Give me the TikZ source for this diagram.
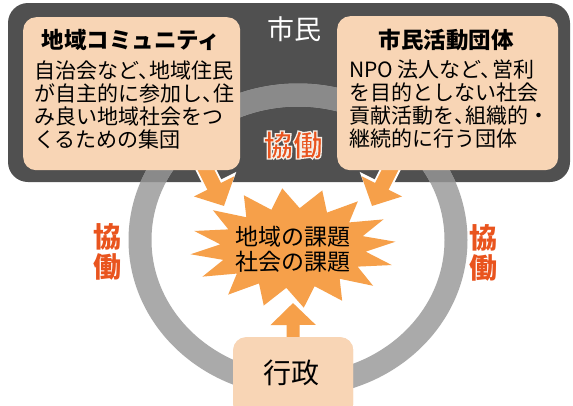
\documentclass[tikz,border=0pt]{standalone}
\usepackage{fontspec}
\setmainfont{Noto Sans CJK JP}
\usetikzlibrary{arrows.meta}
\definecolor{darkbg}{HTML}{505050}
\definecolor{peach}{HTML}{F8D5B5}
\definecolor{orng}{HTML}{F6A04A}
\definecolor{kyored}{HTML}{E9541E}
\definecolor{ringg}{HTML}{AAAAAA}
\definecolor{ringd}{HTML}{8A8A8A}
\newcommand\tou{、\kern-0.45em\relax}
\newcommand\glowon{\special{pdf:literal direct 2 Tr 1.3 w 0.96 0.93 0.9 RG}}
\newcommand\glowoff{\special{pdf:literal direct 0 Tr 0.4 w}}
\begin{document}
\begin{tikzpicture}[x=1pt,y=-1pt,
  box/.style={fill=peach, rounded corners=13pt, inner sep=0pt, draw=none},
  body/.style={align=left, inner sep=0pt, font=\fontsize{21}{23}\selectfont},
  ttl/.style={inner sep=0pt, font=\fontsize{22.5}{24}\selectfont\bfseries},
  kyo/.style={inner sep=0pt, text=kyored, align=center, font=\fontsize{28}{30}\selectfont\bfseries},
  fat/.style={orng, line width=15pt, -{Triangle[length=22pt,width=44pt]}},
  fatw/.style={white, line width=19pt, -{Triangle[length=25pt,width=51pt]}},
  ring/.style={line width=23pt}
]
\clip (0,0) rectangle (573,405);
\fill[white] (0,0) rectangle (573,405);
% citizens area
\fill[darkbg, rounded corners=20pt] (8,3) rectangle (570,182);
% ring
\draw[ringg, ring] (298,240) ellipse [x radius=158, y radius=145];
\begin{scope}
  \clip[rounded corners=20pt] (8,3) rectangle (570,182);
  \draw[ringd, ring] (298,240) ellipse [x radius=158, y radius=145];
\end{scope}
% star burst
\fill[orng] plot[samples at={0,1,...,31}, variable=\k]
  ({293+(88+15*cos(\k*180))*cos(\k*11.25+6)},
   {248-(50+10*cos(\k*180))*sin(\k*11.25+6)}) -- cycle;
\node[inner sep=0pt, align=center, font=\fontsize{23}{25}\selectfont] (issue) at (293,249) {地域の課題\\社会の課題};
% arrows
\coordinate (ls) at (200,158);
\coordinate (lt) at (224,206);
\coordinate (rs) at (396,158);
\coordinate (rt) at (372,206);
\coordinate (bt) at (293,303);
\draw[fatw] (ls) -- (lt);
\draw[fat] (ls) -- (lt);
\draw[fatw] (rs) -- (rt);
\draw[fat] (rs) -- (rt);
% boxes
\node[box, minimum width=217pt, minimum height=153pt, anchor=north west] (chiiki) at (23,17) {};
\node[box, minimum width=221pt, minimum height=154pt, anchor=north west] (dantai) at (337,16) {};
\node[box, minimum width=120pt, minimum height=80pt, anchor=north west] (gyosei) at (233,337) {};
\draw[fatw, line width=16pt] (gyosei.north) ++(0,6) coordinate (bs) -- (bt);
\draw[fat, line width=13pt] (bs) -- (bt);
\node[box, minimum width=120pt, minimum height=80pt, anchor=north west] at (233,337) {};
% texts
\node[text=white, inner sep=0pt, font=\fontsize{27}{29}\selectfont] (shimin) at (294,29) {市民};
\node[ttl] (t1) at (131,40) {地域コミュニティ};
\node[body, anchor=west] (b1) at (34,104.5) {自治会など\tou 地域住民\\が自主的に参加し\tou 住\\み良い地域社会をつ\\くるための集団};
\node[ttl] (t2) at (446,40) {市民活動団体};
\node[body, anchor=west] (b2) at (349,104.5) {NPO 法人など\tou 営利\\を目的としない社会\\貢献活動を\tou 組織的・\\継続的に行う団体};
\node[inner sep=0pt, font=\fontsize{28}{30}\selectfont] (gt) at (291,373) {行政};
% kyodo labels
\node[kyo] (k1) at (107,252) {協\\働};
\node[kyo] (k2) at (483,253) {協\\働};
\node[kyo, font=\fontsize{29.5}{30}\selectfont\bfseries] (k0) at (293,145) {\glowon 協働\glowoff};
\end{tikzpicture}
\end{document}
